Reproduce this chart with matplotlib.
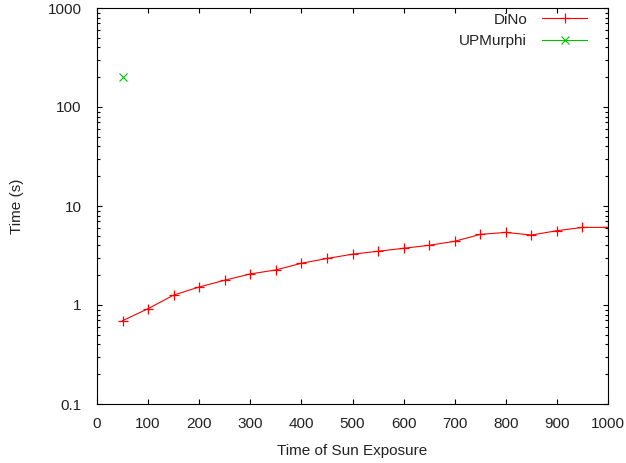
import numpy as np
import matplotlib
matplotlib.rcParams['font.family'] = ['Liberation Sans', 'DejaVu Sans']
import matplotlib.pyplot as plt
from matplotlib.ticker import FixedLocator, FuncFormatter, LogLocator, NullFormatter

# data
dino_x = [50, 100, 150, 200, 250, 300, 350, 400, 450, 500,
          550, 600, 650, 700, 750, 800, 850, 900, 950, 1000]
dino_y = [0.695, 0.918, 1.26, 1.52, 1.78, 2.06, 2.26, 2.64, 2.95, 3.26,
          3.49, 3.74, 4.01, 4.40, 5.17, 5.41, 5.09, 5.63, 6.08, 6.08]
upm_x = [50]
upm_y = [200]

x_ticks = [0, 100, 200, 300, 400, 500, 600, 700, 800, 900, 1000]
y_ticks = [0.1, 1, 10, 100, 1000]

TXT = '#222222'
FS = 11

fig = plt.figure(figsize=(6.26, 4.63), dpi=100)
ax = fig.add_axes([97/626, 1 - 404/463, (608 - 97)/626, (404 - 8)/463])

ax.plot(dino_x, dino_y, color='#ff0000', linewidth=0.8, marker='+',
        markersize=6.5, markeredgewidth=0.9, label='DiNo')
ax.plot(upm_x, upm_y, color='#00c000', linewidth=0.8, marker='x',
        markersize=5.5, markeredgewidth=0.8, label='UPMurphi')

ax.set_yscale('log')
ax.set_xlim(0, 1000)
ax.set_ylim(0.1, 1000)
ax.xaxis.set_major_locator(FixedLocator(x_ticks))
ax.yaxis.set_major_locator(FixedLocator(y_ticks))
ax.yaxis.set_major_formatter(FuncFormatter(lambda v, p: f"{v:g}"))
ax.yaxis.set_minor_locator(LogLocator(base=10, subs=np.arange(2, 10)))
ax.yaxis.set_minor_formatter(NullFormatter())

ax.tick_params(which='both', direction='in', top=True, right=True,
               labelsize=FS, labelcolor=TXT, color='black')
ax.tick_params(axis='x', pad=9)
ax.tick_params(axis='y', pad=11)
ax.tick_params(which='major', length=3.6, width=0.8)
ax.tick_params(which='minor', length=2.2, width=0.8)
for s in ax.spines.values():
    s.set_linewidth(0.8)

ax.set_xlabel("Time of Sun Exposure", fontsize=FS, color=TXT, va='center')
ax.set_ylabel("Time (s)", fontsize=FS, color=TXT, va='center')
ax.xaxis.set_label_coords(0.5, (404 - 451) / 396)
ax.yaxis.set_label_coords((17 - 97) / 511, 0.5)

leg = ax.legend(loc='upper right', frameon=False, markerfirst=False,
                fontsize=FS, handlelength=2.95, handletextpad=1.0,
                borderaxespad=0.0, borderpad=0.3, labelspacing=0.5,
                bbox_to_anchor=(1 - 16/511, 1.0))
for t in leg.get_texts():
    t.set_ha('right')
    t.set_color(TXT)

fig.savefig('out.png', dpi=100)
